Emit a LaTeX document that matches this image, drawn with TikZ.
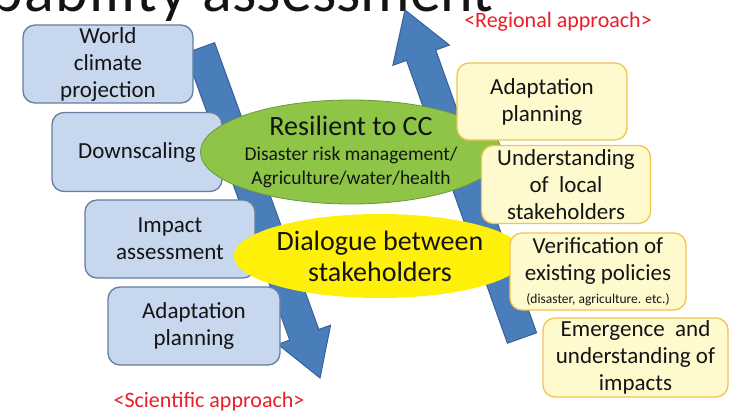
\documentclass[tikz,border=0pt]{standalone}
\usepackage{fontspec}
\setmainfont{Carlito}
\usetikzlibrary{calc,shapes.geometric}

\definecolor{arrowblue}{RGB}{74,126,187}
\definecolor{arrowedge}{RGB}{56,96,150}
\definecolor{sciboxfill}{RGB}{198,215,238}
\definecolor{sciboxedge}{RGB}{100,125,160}
\definecolor{regboxfill}{RGB}{255,249,206}
\definecolor{regboxedge}{RGB}{242,196,80}
\definecolor{resgreen}{RGB}{143,197,70}
\definecolor{resedge}{RGB}{105,150,62}
\definecolor{dialogyellow}{RGB}{255,240,10}
\definecolor{labelred}{RGB}{232,30,40}
\definecolor{ink}{RGB}{20,20,20}

\begin{document}
\begin{tikzpicture}[x=1pt,y=-1pt,
  stagebox/.style={rounded corners=12pt, line width=1.3pt, align=center,
    inner sep=0pt, text=ink, font=\fontsize{23}{27}\selectfont},
  scibox/.style={stagebox, draw=sciboxedge, fill=sciboxfill},
  regbox/.style={stagebox, draw=regboxedge, fill=regboxfill},
  bigarrow/.style={fill=arrowblue, draw=arrowedge, line width=1pt, line join=miter},
  approach/.style={text=labelred, inner sep=0pt, font=\fontsize{22}{26}\selectfont}]
\useasboundingbox (0,0) rectangle (730,414);

% heading, partly cut off by the top edge
\node[anchor=base east, inner sep=0pt, text=ink, font=\fontsize{62}{64}\selectfont]
  (heading) at (494,12) {{\addfontfeature{LetterSpace=2.5}capability }assessment};

% downward block arrow (scientific approach)
\coordinate (dnS) at (200,48);
\coordinate (dnT) at (320,378);
\coordinate (dnB) at ($(dnT)!46pt!(dnS)$);
\draw[bigarrow] ($(dnS)!15.5pt!90:(dnT)$) -- ($(dnB)!15.5pt!-90:(dnS)$)
  -- ($(dnB)!28pt!-90:(dnS)$) -- (dnT) -- ($(dnB)!28pt!90:(dnS)$)
  -- ($(dnB)!15.5pt!90:(dnS)$) -- ($(dnS)!15.5pt!-90:(dnT)$) -- cycle;

% upward block arrow (regional approach)
\coordinate (upS) at (522,338);
\coordinate (upT) at (405,10);
\coordinate (upB) at ($(upT)!48pt!(upS)$);
\draw[bigarrow] ($(upS)!15.5pt!90:(upT)$) -- ($(upB)!15.5pt!-90:(upS)$)
  -- ($(upB)!30pt!-90:(upS)$) -- (upT) -- ($(upB)!30pt!90:(upS)$)
  -- ($(upB)!15.5pt!90:(upS)$) -- ($(upS)!15.5pt!-90:(upT)$) -- cycle;

% scientific approach steps
\node[scibox, minimum width=170pt, minimum height=78pt] (world) at (108,64)
  {World\\climate\\projection};
\node[scibox, minimum width=170pt, minimum height=79pt] (down) at (137,152)
  {Downscaling};
\node[scibox, minimum width=170pt, minimum height=78pt] (impact) at (170,239)
  {Impact\\assessment};
\node[scibox, minimum width=172pt, minimum height=78pt] (adaptL) at (194,326)
  {Adaptation\\planning};

% central goals
\node[ellipse, minimum width=258pt, minimum height=104pt, inner sep=0pt,
  fill=resgreen, draw=resedge, line width=0.8pt, align=center, text=ink,
  font=\fontsize{19.5}{24}\selectfont] (resilient) at (351,152)
  {{\fontsize{28}{31}\selectfont Resilient to CC}\\[1pt]
   Disaster risk management/\\Agriculture/water/health};
\node[ellipse, minimum width=254pt, minimum height=84pt, inner sep=0pt,
  fill=dialogyellow, align=center, text=ink,
  font=\fontsize{28}{31}\selectfont] (dialogue) at (380,256)
  {Dialogue between\\stakeholders};

% regional approach steps
\node[regbox, minimum width=170pt, minimum height=77pt] (adaptR) at (542,101.5)
  {Adaptation\\planning};
\node[regbox, minimum width=169pt, minimum height=78pt] (under) at (566,184.5)
  {Understanding\\of\ \ local\\stakeholders};
\node[regbox, minimum width=176pt, minimum height=77pt] (verify) at (598,271.5)
  {Verification of\\existing policies\\[-4pt]{\fontsize{13.5}{15}\selectfont (disaster, agriculture. etc.)}};
\node[regbox, minimum width=185pt, minimum height=79pt] (emerge) at (635.5,357.5)
  {Emergence\ \ and\\understanding of\\impacts};

% approach labels
\node[approach] (regional) at (558,22) {<Regional approach>};
\node[approach] (scientific) at (209,402) {<Scientific approach>};
\end{tikzpicture}
\end{document}
